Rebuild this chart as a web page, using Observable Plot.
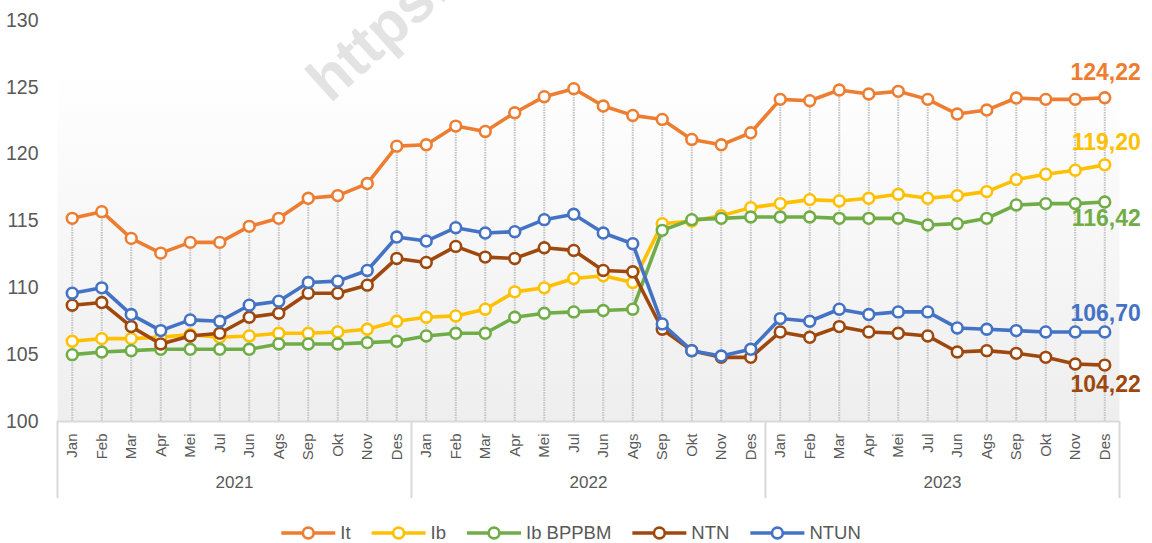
<!DOCTYPE html>
<html>
<head>
<meta charset="utf-8">
<script src="https://cdn.jsdelivr.net/npm/d3@7"></script>
<script src="https://cdn.jsdelivr.net/npm/@observablehq/plot@0.6"></script>
<style>
  html, body { margin: 0; padding: 0; background: #fff; }
  body { width: 1152px; height: 543px; overflow: hidden; position: relative; }
  #legend svg { display: block; }
</style>
</head>
<body>
<div id="chart"></div>
<div id="legend"></div>
<script>
// ---- data ----
const months = ["Jan","Feb","Mar","Apr","Mei","Jul","Jun","Ags","Sep","Okt","Nov","Des"];
const years = ["2021","2022","2023"];
const seriesNames = ["It","Ib","Ib BPPBM","NTN","NTUN"];
const seriesColors = ["#ED7D31","#FFC000","#70AD47","#9E480E","#4472C4"];

const It = [115.2,115.7,113.7,112.6,113.4,113.4,114.6,115.2,116.7,116.9,117.8,120.6,
            120.7,122.1,121.7,123.1,124.3,124.9,123.6,122.9,122.6,121.1,120.7,121.6,
            124.1,124.0,124.8,124.5,124.7,124.1,123.0,123.3,124.2,124.1,124.1,124.22];
const Ib = [106.0,106.2,106.2,106.3,106.5,106.3,106.4,106.6,106.6,106.7,106.9,107.5,
            107.8,107.9,108.4,109.7,110.0,110.7,110.9,110.4,114.8,115.0,115.4,116.0,
            116.3,116.6,116.5,116.7,117.0,116.7,116.9,117.2,118.1,118.5,118.8,119.20];
const IbBPPBM = [105.0,105.2,105.3,105.4,105.4,105.4,105.4,105.8,105.8,105.8,105.9,106.0,
            106.4,106.6,106.6,107.8,108.1,108.2,108.3,108.4,114.3,115.1,115.2,115.3,
            115.3,115.3,115.2,115.2,115.2,114.7,114.8,115.2,116.2,116.3,116.3,116.42];
const NTN = [108.7,108.9,107.1,105.8,106.4,106.6,107.8,108.1,109.6,109.6,110.2,112.2,
            111.9,113.1,112.3,112.2,113.0,112.8,111.3,111.2,106.9,105.3,104.8,104.8,
            106.7,106.3,107.1,106.7,106.6,106.4,105.2,105.3,105.1,104.8,104.3,104.22];
const NTUN = [109.6,110.0,108.0,106.8,107.6,107.5,108.7,109.0,110.4,110.5,111.3,113.8,
            113.5,114.5,114.1,114.2,115.1,115.5,114.1,113.3,107.3,105.3,104.9,105.4,
            107.7,107.5,108.4,108.0,108.2,108.2,107.0,106.9,106.8,106.7,106.7,106.70];
const endLabels = ["124,22","119,20","116,42","104,22","106,70"];
const yTicks = [100,105,110,115,120,125,130];

// ---- build table ----
const seriesValues = [It, Ib, IbBPPBM, NTN, NTUN];
const rows = [];
seriesNames.forEach((s, k) => seriesValues[k].forEach((v, i) => rows.push({series: s, i, value: v})));
const idx = d3.range(It.length);
const itRows = rows.filter(d => d.series === "It");

// ---- style config ----
const FONT = '"Liberation Sans", Arial, sans-serif';
const W = 1152, H = 515, mL = 57, mR = 33, mT = 20, mB = 94;
const halfStep = (W - mL - mR) / idx.length / 2;
const labelDy = {"It": -25, "Ib": -22, "Ib BPPBM": 17, "NTN": 20, "NTUN": -18};

const seriesMarks = seriesNames.flatMap((s, k) => {
  const data = rows.filter(d => d.series === s);
  return [
    Plot.line(data, {x: "i", y: "value", stroke: seriesColors[k], strokeWidth: 3.6, strokeLinejoin: "round"}),
    Plot.dot(data, {x: "i", y: "value", stroke: seriesColors[k], fill: "white", r: 5.4, strokeWidth: 2.6})
  ];
});
const labelMarks = seriesNames.map((s, k) => Plot.text(rows.filter(d => d.series === s && d.i === idx.length - 1), {
  x: "i", y: "value", text: () => endLabels[k], fill: seriesColors[k], textAnchor: "end",
  dx: 36, dy: labelDy[s], fontSize: 23, fontWeight: "bold", fontFamily: FONT
}));

const chart = Plot.plot({
  width: W, height: H,
  marginLeft: mL, marginRight: mR, marginTop: mT, marginBottom: mB,
  style: {background: "transparent", overflow: "visible", fontFamily: FONT},
  x: {type: "point", domain: idx, padding: 0.5, round: false},
  y: {domain: [100, 130]},
  marks: [
    Plot.frame({fill: "url(#bgGrad)", stroke: "none"}),
    Plot.ruleX(itRows, {x: "i", y1: 100, y2: "value", stroke: "#c4c4c4", strokeWidth: 2, strokeDasharray: "1.5,1"}),
    Plot.ruleY([100], {stroke: "#d9d9d9", strokeWidth: 2}),
    Plot.ruleX([0, 12, 24], {x: d => d, y1: 100, y2: 94.24, dx: -halfStep, stroke: "#d9d9d9", strokeWidth: 2}),
    Plot.ruleX([idx.length - 1], {x: d => d, y1: 100, y2: 94.24, dx: halfStep, stroke: "#d9d9d9", strokeWidth: 2}),
    Plot.axisX({ticks: idx, tickFormat: i => months[i % 12], tickRotate: -90, tickSize: 0, tickPadding: 12,
      fontSize: 15, color: "#595959", label: null}),
    Plot.axisY({ticks: yTicks, tickSize: 0, tickPadding: 19, fontSize: 19.5, color: "#595959", label: null}),
    Plot.text(years, {x: (d, k) => k * 12 + 6, text: d => d, frameAnchor: "bottom", dy: 66, dx: -halfStep,
      fontSize: 17, fill: "#595959"}),
    ...seriesMarks,
    ...labelMarks
  ]
});

const svg = d3.select(chart);
// make sure the month labels get their size
svg.selectAll("text").filter(function() { return months.includes(this.textContent); })
  .style("font-size", "15px").attr("font-size", 15).attr("fill", "#595959");

// gradient background for the plot area
const grad = svg.insert("defs", ":first-child").append("linearGradient")
  .attr("id", "bgGrad").attr("x1", 0).attr("y1", 0).attr("x2", 0).attr("y2", 1);
grad.append("stop").attr("offset", "0%").attr("stop-color", "#ffffff");
grad.append("stop").attr("offset", "12%").attr("stop-color", "#ffffff");
grad.append("stop").attr("offset", "100%").attr("stop-color", "#eeeeee");

// watermark (partially cut at the top, as in the source)
svg.append("text").text("https://")
  .attr("transform", "translate(330,104) rotate(-42)")
  .attr("text-anchor", "start")
  .attr("font-family", FONT)
  .attr("font-weight", "bold").attr("font-size", 60).attr("fill", "#e3e3e3");

document.getElementById("chart").appendChild(chart);

// legend (SVG, laid out by measured text widths, centred)
const lsvg = d3.select("#legend").append("svg").attr("width", W).attr("height", 28)
  .attr("font-family", FONT).attr("font-size", 18.5);
const g = lsvg.append("g");
let x = 0;
seriesNames.forEach((s, k) => {
  const it = g.append("g").attr("transform", `translate(${x},0)`);
  it.append("line").attr("x1", 0).attr("x2", 54).attr("y1", 18).attr("y2", 18)
    .attr("stroke", seriesColors[k]).attr("stroke-width", 3.6);
  it.append("circle").attr("cx", 27).attr("cy", 18).attr("r", 5.4)
    .attr("fill", "white").attr("stroke", seriesColors[k]).attr("stroke-width", 2.6);
  const t = it.append("text").attr("x", 59).attr("y", 18).attr("dy", "0.35em").attr("fill", "#595959").text(s);
  x += 59 + t.node().getComputedTextLength() + 21;
});
const total = x - 21;
g.attr("transform", `translate(${(571 - total / 2).toFixed(1)},0)`);
</script>
</body>
</html>
